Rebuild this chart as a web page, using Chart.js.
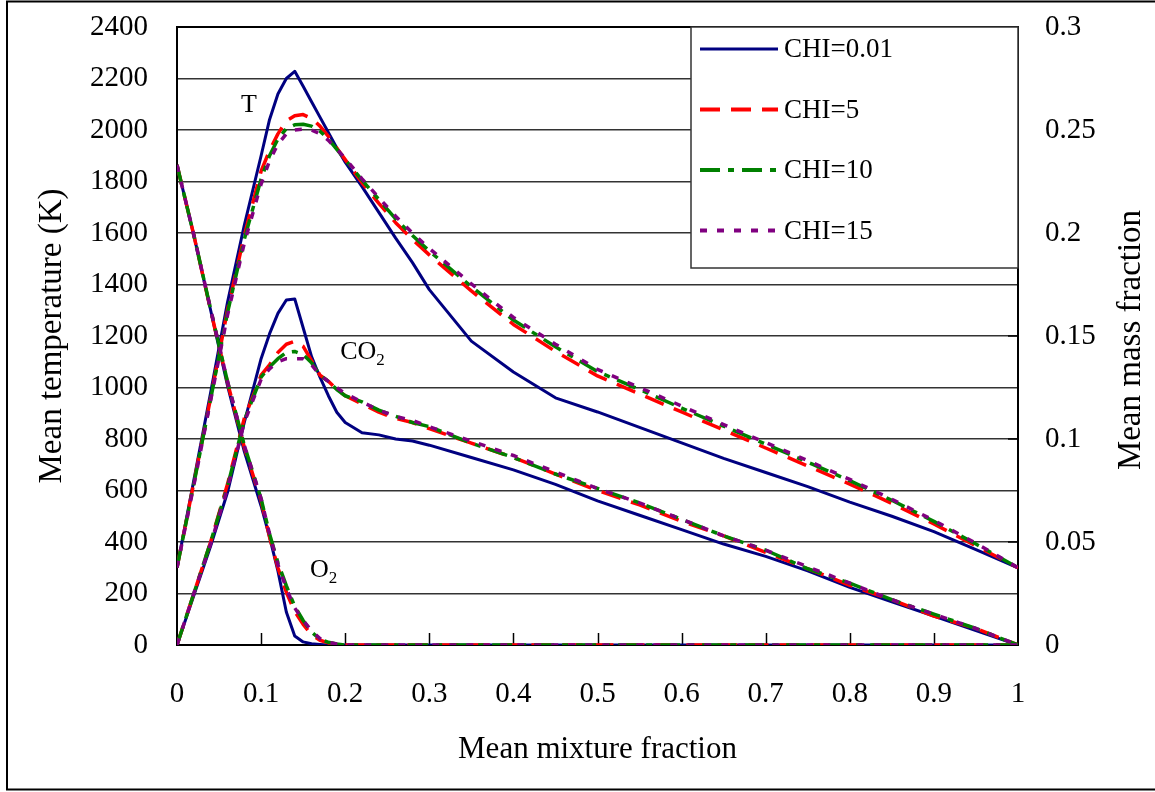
<!DOCTYPE html>
<html>
<head>
<meta charset="utf-8">
<title>Mean temperature and mass fractions vs mixture fraction</title>
<script src="https://cdn.jsdelivr.net/npm/chart.js@4.4.1/dist/chart.umd.min.js"></script>
<style>
  html, body { margin: 0; padding: 0; background: #fff; }
  #wrap { width: 1155px; height: 792px; }
</style>
</head>
<body>
<div id="wrap"><canvas id="chart" width="1155" height="792"></canvas></div>
<script>
// mean mixture fraction (x)
const mixFrac = [0, 0.02, 0.04, 0.06, 0.08, 0.10, 0.11, 0.12, 0.13, 0.14, 0.15, 0.16, 0.17, 0.18, 0.19, 0.20,
  0.22, 0.24, 0.26, 0.28, 0.30, 0.35, 0.40, 0.45, 0.50, 0.55, 0.60, 0.65, 0.70, 0.75, 0.80, 0.85, 0.90, 0.95, 1.00];

const chiLabels = ["CHI=0.01", "CHI=5", "CHI=10", "CHI=15"];

// mean temperature (K), left axis
const tempChi001 = [300, 640, 980, 1330, 1630, 1900, 2040, 2140, 2200, 2228, 2170, 2110, 2050, 1990, 1930, 1875,
  1780, 1680, 1580, 1485, 1380, 1180, 1060, 960, 905, 845, 785, 725, 670, 615, 555, 500, 440, 370, 300];
const tempChi5 = [300, 630, 960, 1300, 1590, 1840, 1920, 1985, 2035, 2055, 2060, 2045, 2015, 1975, 1930, 1885,
  1795, 1715, 1640, 1575, 1515, 1375, 1245, 1140, 1045, 975, 905, 835, 765, 695, 625, 550, 470, 385, 300];
const tempChi10 = [300, 625, 955, 1290, 1575, 1810, 1900, 1965, 2005, 2020, 2022, 2015, 1995, 1965, 1925, 1885,
  1805, 1730, 1655, 1590, 1530, 1392, 1262, 1158, 1062, 992, 920, 850, 780, 710, 638, 562, 480, 392, 300];
const tempChi15 = [300, 620, 950, 1280, 1560, 1790, 1880, 1945, 1985, 2000, 2003, 2000, 1985, 1960, 1925, 1890,
  1810, 1737, 1665, 1600, 1540, 1402, 1272, 1168, 1070, 1000, 928, 856, 786, 716, 643, 566, 484, 395, 300];

// CO2 mean mass fraction, right axis
const co2Chi001 = [0, 0.024, 0.048, 0.074, 0.108, 0.139, 0.151, 0.161, 0.1675, 0.168, 0.154, 0.140, 0.130, 0.121, 0.113, 0.108,
  0.103, 0.102, 0.100, 0.099, 0.097, 0.091, 0.085, 0.078, 0.070, 0.063, 0.056, 0.049, 0.043, 0.036, 0.028, 0.021, 0.014, 0.007, 0];
const co2Chi5 = [0, 0.025, 0.050, 0.078, 0.110, 0.131, 0.136, 0.142, 0.146, 0.1475, 0.145, 0.138, 0.131, 0.128, 0.124, 0.121,
  0.117, 0.113, 0.110, 0.108, 0.105, 0.098, 0.091, 0.083, 0.075, 0.068, 0.060, 0.053, 0.045, 0.037, 0.029, 0.022, 0.014, 0.008, 0];
const co2Chi10 = [0, 0.025, 0.050, 0.077, 0.109, 0.130, 0.135, 0.139, 0.142, 0.1425, 0.141, 0.137, 0.131, 0.128, 0.124, 0.121,
  0.118, 0.114, 0.111, 0.108, 0.106, 0.098, 0.091, 0.083, 0.076, 0.069, 0.061, 0.053, 0.046, 0.037, 0.030, 0.022, 0.015, 0.008, 0];
const co2Chi15 = [0, 0.025, 0.049, 0.076, 0.108, 0.129, 0.134, 0.1375, 0.139, 0.139, 0.139, 0.136, 0.131, 0.128, 0.125, 0.122,
  0.118, 0.114, 0.111, 0.109, 0.106, 0.099, 0.092, 0.084, 0.076, 0.069, 0.061, 0.053, 0.046, 0.038, 0.030, 0.022, 0.015, 0.008, 0];

// O2 mean mass fraction, right axis
const o2Chi001 = [0.233, 0.199, 0.1625, 0.126, 0.094, 0.0675, 0.0525, 0.036, 0.016, 0.0044, 0.0015, 0.0006, 0.0003, 0, 0, 0,
  0, 0, 0, 0, 0, 0, 0, 0, 0, 0, 0, 0, 0, 0, 0, 0, 0, 0, 0];
const o2Chi5 = [0.233, 0.199, 0.1625, 0.1275, 0.096, 0.070, 0.0525, 0.0375, 0.0256, 0.0163, 0.010, 0.005, 0.0023, 0.001, 0.0004, 0,
  0, 0, 0, 0, 0, 0, 0, 0, 0, 0, 0, 0, 0, 0, 0, 0, 0, 0, 0];
const o2Chi10 = [0.233, 0.199, 0.163, 0.128, 0.097, 0.071, 0.054, 0.040, 0.0288, 0.0188, 0.0119, 0.0063, 0.0028, 0.0013, 0.0005, 0,
  0, 0, 0, 0, 0, 0, 0, 0, 0, 0, 0, 0, 0, 0, 0, 0, 0, 0, 0];
const o2Chi15 = [0.233, 0.199, 0.163, 0.128, 0.097, 0.071, 0.054, 0.039, 0.0275, 0.018, 0.012, 0.0069, 0.0031, 0.0013, 0.0005, 0,
  0, 0, 0, 0, 0, 0, 0, 0, 0, 0, 0, 0, 0, 0, 0, 0, 0, 0, 0];

const tempSeries = [tempChi001, tempChi5, tempChi10, tempChi15];
const co2Series = [co2Chi001, co2Chi5, co2Chi10, co2Chi15];
const o2Series = [o2Chi001, o2Chi5, o2Chi10, o2Chi15];

const SERIF = "'Liberation Serif', 'Times New Roman', serif";
const colors = ["#000080", "#ff0000", "#008000", "#800080"];
const dashes = [[], [20, 11], [20, 8, 6, 8], [7, 10]];
const widths = [3, 3.5, 3.5, 3.5];

const toPoints = vals => vals.map((v, i) => ({ x: mixFrac[i], y: v }));

const datasets = [];
chiLabels.forEach((label, k) => {
	const style = {
		borderColor: colors[k],
		backgroundColor: colors[k],
		borderWidth: widths[k],
		borderDash: dashes[k],
		borderJoinStyle: "round",
		pointRadius: 0,
		fill: false,
		tension: 0,
		order: 4 - k, // solid line underneath the dashed ones
	};
	datasets.push({ label, data: toPoints(tempSeries[k]), yAxisID: "y", ...style });
	datasets.push({ label: label + " CO2", data: toPoints(co2Series[k]), yAxisID: "y2", ...style });
	datasets.push({ label: label + " O2", data: toPoints(o2Series[k]), yAxisID: "y2", ...style });
});

// text with a lowered "2"
const drawSub = (ctx, main, sub, x, y) => {
	ctx.font = `26px ${SERIF}`;
	ctx.textAlign = "left";
	ctx.textBaseline = "alphabetic";
	ctx.fillText(main, x, y);
	const w = ctx.measureText(main).width;
	ctx.font = `17px ${SERIF}`;
	ctx.fillText(sub, x + w, y + 6);
};

// the vertical axes must not push the plot down
const fixVertical = w => s => {
	s.width = w;
	s.paddingTop = 0;
	s.paddingBottom = 0;
};

const decorations = {
	id: "decorations",
	beforeDraw(chart) {
		const { ctx, width, height } = chart;
		ctx.save();
		ctx.fillStyle = "#fff";
		ctx.fillRect(0, 0, width, height);
		ctx.restore();
	},
	beforeDatasetsDraw(chart) {
		const { ctx, chartArea: a, scales } = chart;
		ctx.save();

		// outer frame of the figure
		ctx.strokeStyle = "#000";
		ctx.lineWidth = 2;
		ctx.beginPath();
		ctx.moveTo(chart.width, 1.5);
		ctx.lineTo(7, 1.5);
		ctx.lineTo(7, 789.5);
		ctx.lineTo(chart.width, 789.5);
		ctx.stroke();

		// plot frame
		ctx.strokeRect(a.left, a.top, a.right - a.left, a.bottom - a.top);

		// inward tick marks
		ctx.lineWidth = 1.5;
		for (let i = 1; i < 10; i++) {
			const px = Math.round(scales.x.getPixelForValue(i / 10)) + 0.5;
			ctx.beginPath();
			ctx.moveTo(px, a.bottom);
			ctx.lineTo(px, a.bottom - 12);
			ctx.stroke();
		}
		for (let i = 1; i < 6; i++) {
			const py = scales.y2.getPixelForValue(i * 0.05);
			ctx.beginPath();
			ctx.moveTo(a.right, py);
			ctx.lineTo(a.right - 10, py);
			ctx.stroke();
		}
		ctx.restore();
	},
	afterDraw(chart) {
		const { ctx, chartArea: a, scales } = chart;
		ctx.save();

		// legend box inside the plot, top right
		const bx = a.right - 327, by = a.top, bw = 327, bh = 241;
		ctx.fillStyle = "#fff";
		ctx.fillRect(bx, by, bw, bh);
		ctx.strokeStyle = "#333";
		ctx.lineWidth = 1.5;
		ctx.strokeRect(bx, by, bw, bh);
		chiLabels.forEach((label, k) => {
			const y = by + 22 + k * 60.5;
			ctx.strokeStyle = colors[k];
			ctx.lineWidth = k === 0 ? 3 : 4;
			ctx.setLineDash(dashes[k]);
			ctx.beginPath();
			ctx.moveTo(bx + 9, y);
			ctx.lineTo(bx + 87, y);
			ctx.stroke();
			ctx.setLineDash([]);
			ctx.fillStyle = "#000";
			ctx.font = `27px ${SERIF}`;
			ctx.textAlign = "left";
			ctx.textBaseline = "middle";
			ctx.fillText(label, bx + 93, y + 1);
		});

		// right axis title, reading bottom to top
		ctx.save();
		ctx.translate(1131, (a.top + a.bottom) / 2 + 4);
		ctx.rotate(-Math.PI / 2);
		ctx.fillStyle = "#000";
		ctx.font = `33px ${SERIF}`;
		ctx.textAlign = "center";
		ctx.textBaseline = "middle";
		ctx.fillText("Mean mass fraction", 0, 0);
		ctx.restore();

		// curve annotations
		ctx.fillStyle = "#000";
		ctx.font = `26px ${SERIF}`;
		ctx.textAlign = "center";
		ctx.textBaseline = "middle";
		ctx.fillText("T", scales.x.getPixelForValue(0.0856), scales.y.getPixelForValue(2097));
		drawSub(ctx, "CO", "2", scales.x.getPixelForValue(0.194), scales.y.getPixelForValue(1110));
		drawSub(ctx, "O", "2", scales.x.getPixelForValue(0.158), scales.y.getPixelForValue(265));

		ctx.restore();
	},
};

Chart.defaults.font.family = SERIF;
Chart.defaults.color = "#000";

new Chart(document.getElementById("chart"), {
	type: "line",
	data: { datasets },
	plugins: [decorations],
	options: {
		responsive: false,
		animation: false,
		layout: { padding: { top: 27, left: 0, right: 0, bottom: 0 } },
		plugins: {
			legend: { display: false },
			tooltip: { enabled: false },
		},
		scales: {
			x: {
				type: "linear",
				min: 0,
				max: 1,
				afterFit: s => { s.height = 147; s.paddingLeft = 0; s.paddingRight = 0; },
				ticks: {
					stepSize: 0.1,
					padding: 32,
					font: { size: 29 },
					callback: v => String(+v.toFixed(1)),
				},
				grid: { display: false, drawTicks: false },
				border: { display: false },
				title: {
					display: true,
					text: "Mean mixture fraction",
					font: { size: 31 },
					padding: { top: 0, bottom: 24 },
				},
			},
			y: {
				position: "left",
				min: 0,
				max: 2400,
				afterFit: fixVertical(177),
				ticks: {
					stepSize: 200,
					padding: 29,
					font: { size: 29 },
					callback: v => String(v),
				},
				grid: { color: "#333", lineWidth: 1.5, drawTicks: false },
				border: { display: false },
				title: {
					display: true,
					text: "Mean temperature (K)",
					font: { size: 33 },
					padding: { top: 33, bottom: 0 },
				},
			},
			y2: {
				position: "right",
				min: 0,
				max: 0.3,
				afterFit: fixVertical(137),
				ticks: {
					stepSize: 0.05,
					padding: 27,
					font: { size: 29 },
					callback: v => String(+v.toFixed(2)),
				},
				grid: { drawOnChartArea: false, drawTicks: false },
				border: { display: false },
				title: { display: false },
			},
		},
	},
});
</script>
</body>
</html>
